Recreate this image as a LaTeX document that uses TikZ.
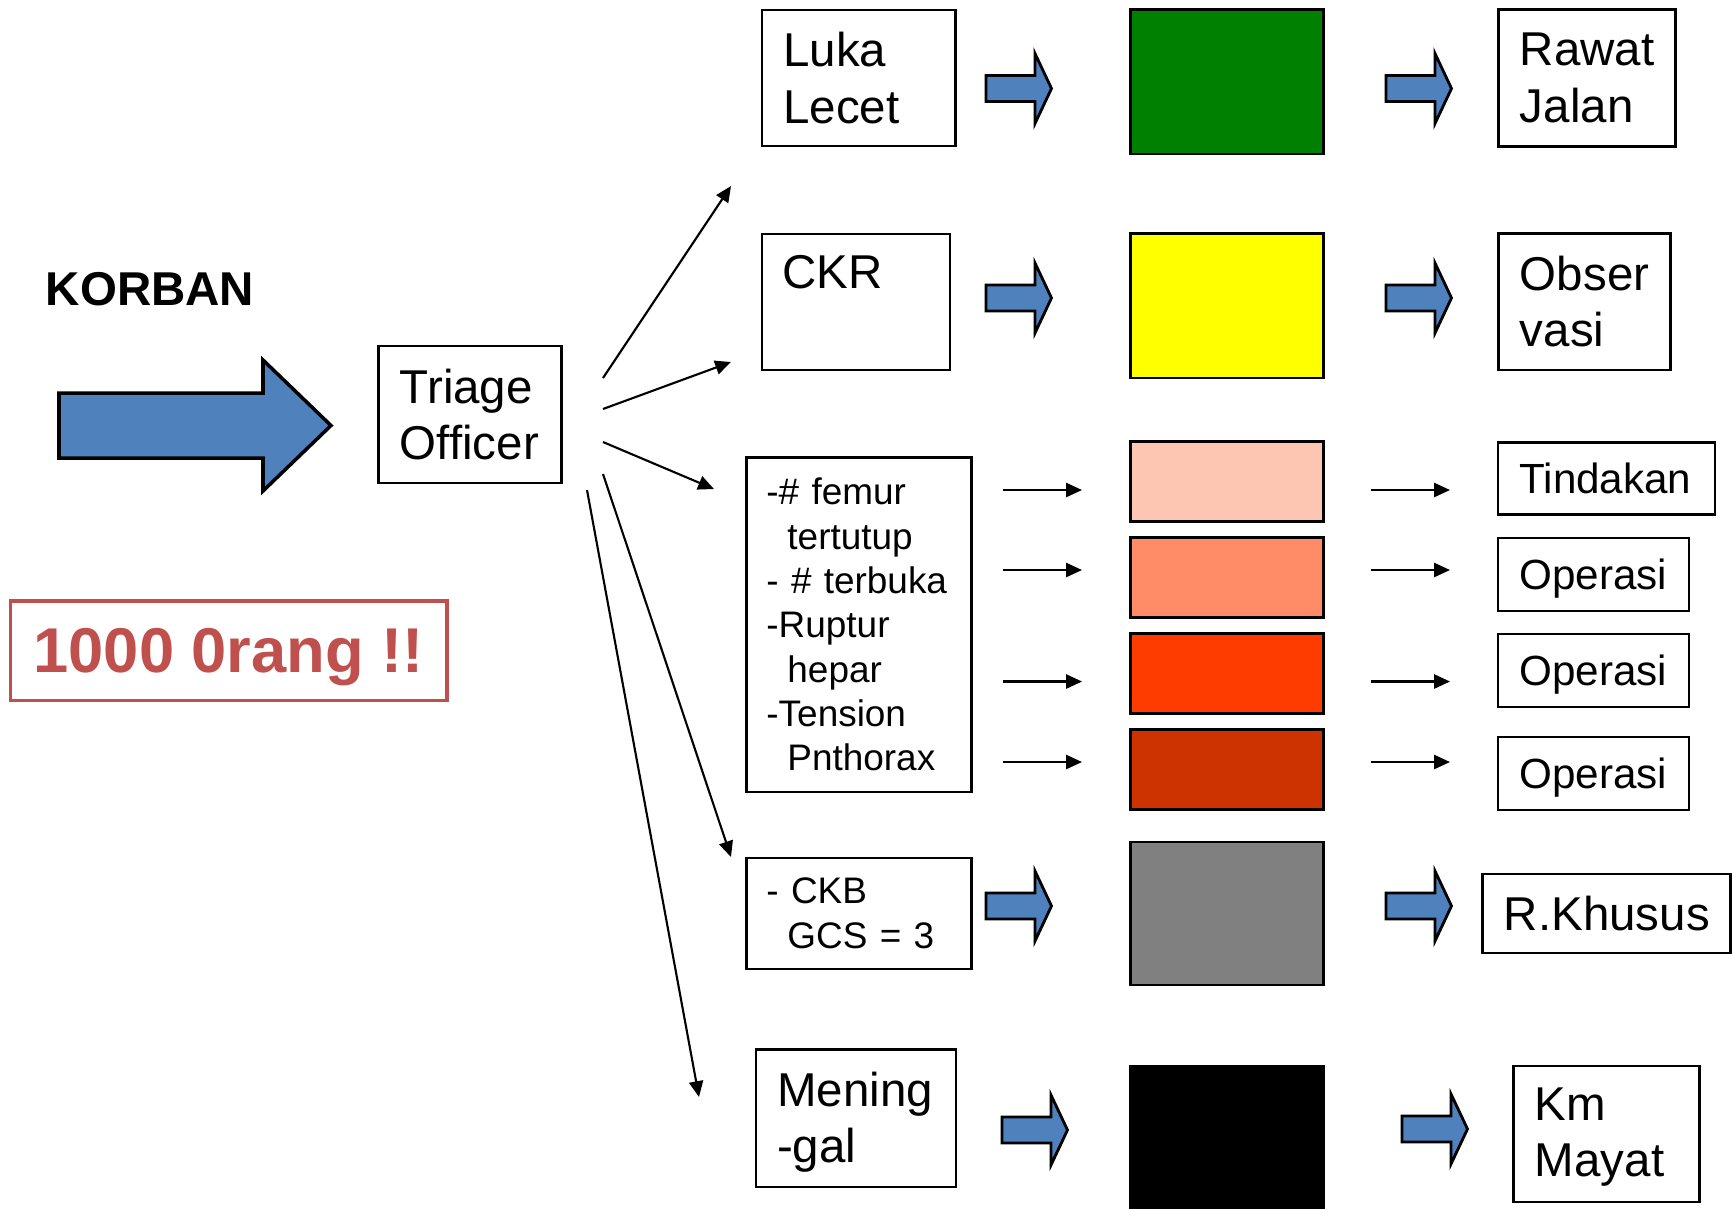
\documentclass[tikz,border=0pt]{standalone}
\usepackage{fontspec}
\setmainfont{Liberation Sans}
\usetikzlibrary{arrows.meta}

\definecolor{biru}{RGB}{79,129,189}
\definecolor{hijau}{RGB}{0,128,0}
\definecolor{kuning}{RGB}{255,255,0}
\definecolor{pinkmuda}{RGB}{252,198,178}
\definecolor{salem}{RGB}{255,140,102}
\definecolor{oranye}{RGB}{255,60,0}
\definecolor{merahtua}{RGB}{204,51,0}
\definecolor{abu}{RGB}{128,128,128}
\definecolor{merahteks}{RGB}{192,80,77}

\tikzset{
    kotak/.style={draw, line width=0.7pt, align=left, inner xsep=0.215cm, inner ysep=0pt, font=\fontsize{13.5}{16}\selectfont},
    teksbesar/.style={anchor=north west, align=left, inner sep=0pt, font=\fontsize{13.5}{16}\selectfont},
    warna/.style={draw, line width=0.7pt, minimum width=1.93cm, inner sep=0pt},
    blok/.style={draw, line width=0.8pt, fill=biru},
    panahtipis/.style={-{Triangle[length=4.5pt,width=4pt]}, line width=0.6pt}
}

\begin{document}
\begin{tikzpicture}[x=0.01cm,y=-0.01cm]
    \useasboundingbox (0,0) rectangle (1732,1208);
    % Korban, panah besar, triage
    \node[font=\fontsize{13.5}{16}\selectfont\bfseries, inner sep=0pt] (korban) at (150,289) {KORBAN};
    \draw[blok, line width=1pt] (59,393) -- (263,393) -- (263,360) -- (331,425.5) -- (263,491) -- (263,458) -- (59,458) -- cycle;
    \node[kotak, text width=1.40cm, minimum height=1.37cm] (triage) at (470,414.5) {Triage\\Officer};
    \node[draw=merahteks, line width=0.9pt, text=merahteks, font=\fontsize{18}{20}\selectfont\bfseries, minimum width=4.365cm, minimum height=0.995cm, text depth=0pt, inner sep=0pt] (orang) at (228.7,650.7) {1000 0rang !!};
    % Kolom kiri
    \node[kotak, text width=1.505cm, minimum height=1.36cm] (luka) at (858.7,78) {Luka\\Lecet};
    \node[kotak, minimum width=1.88cm, minimum height=1.36cm] (ckr) at (856,302) {};
    \node[teksbesar] (ckrteks) at ([shift={(21,22)}]ckr.north west) {CKR};
    \node[kotak, font=\fontsize{10.5}{12.6}\selectfont, inner xsep=0.2cm, text width=1.85cm, minimum height=3.345cm] (daftar) at (859,624.7) {-\# femur\\\hspace*{0.21cm}tertutup\\- \# terbuka\\-Ruptur\\\hspace*{0.21cm}hepar\\-Tension\\\hspace*{0.21cm}Pnthorax};
    \node[kotak, font=\fontsize{10.5}{12.6}\selectfont, inner xsep=0.2cm, text width=1.85cm, minimum height=1.113cm] (ckb) at (859,913.4) {- CKB\\\hspace*{0.21cm}GCS = 3};
    \node[kotak, minimum width=1.997cm, minimum height=1.375cm] (meninggal) at (856,1118.3) {};
    \node[teksbesar] (meninggalteks) at ([shift={(21.6,22.7)}]meninggal.north west) {Mening\\-gal};
    % Kotak warna
    \node[warna, fill=hijau, minimum height=1.445cm] (hijau) at (1227,81.7) {};
    \node[warna, fill=kuning, minimum height=1.445cm] (kuning) at (1227,305.7) {};
    \foreach \nama/\isi/\y in {pink/pinkmuda/481.5, salem/salem/577.5, oranye/oranye/673.5, tua/merahtua/769.5}
        \node[warna, fill=\isi, minimum height=0.8cm] (\nama) at (1227,\y) {};
    \node[warna, fill=abu, minimum height=1.43cm] (abu) at (1227,913.5) {};
    \node[warna, fill=black, minimum height=1.49cm] (hitam) at (1227,1140.5) {};
    % Kolom kanan
    \node[kotak, text width=1.34cm, minimum height=1.37cm] (rawat) at (1587,78) {Rawat\\Jalan};
    \node[kotak, text width=1.29cm, minimum height=1.365cm] (observasi) at (1584.5,301.7) {Obser\\vasi};
    \node[kotak, font=\fontsize{12}{14}\selectfont, text width=1.74cm, minimum height=0.72cm, text depth=0pt] (tindakan) at (1606.5,478.5) {Tindakan};
    \foreach \i/\y in {1/574.5, 2/670.5, 3/773.5}
        \node[kotak, font=\fontsize{12}{14}\selectfont, text width=1.48cm, minimum height=0.73cm, text depth=0pt] (operasi\i) at (1593.5,\y) {Operasi};
    \node[kotak, text width=2.05cm, minimum height=0.79cm, text depth=0pt] (rkhusus) at (1606.5,913.5) {R.Khusus};
    \node[kotak, minimum width=1.86cm, minimum height=1.36cm] (mayat) at (1606.5,1134) {};
    \node[teksbesar] (mayatteks) at ([shift={(22,22.5)}]mayat.north west) {Km\\Mayat};
    % Panah blok biru
    \foreach \x/\y in {986/88.5, 986/298, 986/906, 1002/1130, 1386/88.5, 1386/298, 1386/906, 1402/1129}
        \draw[blok] (\x,\y) ++(0,-13) -- ++(49,0) -- ++(0,-22) -- ++(16.5,35) -- ++(-16.5,35) -- ++(0,-22) -- ++(-49,0) -- cycle;
    % Panah tipis dari triage
    \foreach \i/\xa/\ya/\xb/\yb in {1/603/378/731/186, 2/603/409/731/362, 3/603/442/714/489, 4/603/474/731/857, 5/587/490/699/1097} {
        \coordinate (awal\i) at (\xa,\ya);
        \coordinate (ujung\i) at (\xb,\yb);
        \draw[panahtipis] (awal\i) -- (ujung\i);
    }
    % Panah tipis kasus merah
    \foreach \i/\y in {1/490, 2/570, 3/681.5, 4/762} {
        \coordinate (a\i) at (1003,\y);
        \coordinate (b\i) at (1082,\y);
        \coordinate (c\i) at (1371,\y);
        \coordinate (d\i) at (1450,\y);
        \draw[panahtipis] (a\i) -- (b\i);
        \draw[panahtipis] (c\i) -- (d\i);
    }
\end{tikzpicture}
\end{document}
